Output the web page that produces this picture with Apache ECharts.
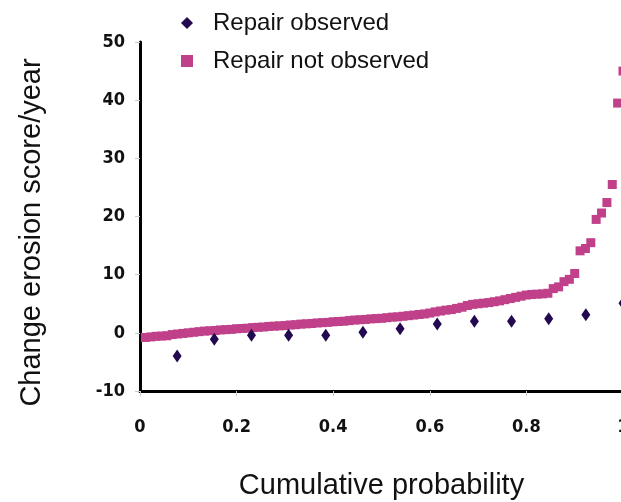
<!DOCTYPE html>
<html>
<head>
<meta charset="utf-8">
<script src="https://cdn.jsdelivr.net/npm/echarts@6/dist/echarts.min.js"></script>
<style>html,body{margin:0;padding:0;background:#fff}#c{width:621px;height:502px}</style>
</head>
<body>
<div id="c"></div>
<script>
// Sorted change in erosion score/year per patient group
var observedValues = [-4.0, -1.1, -0.4, -0.4, -0.4, 0.1, 0.7, 1.5, 2.0, 2.0, 2.4, 3.1, 5.1];
var notObservedValues = [
  -0.8, -0.7, -0.6, -0.55, -0.5, -0.3, -0.2, -0.1, 0.0, 0.1,
  0.2, 0.3, 0.35, 0.4, 0.5, 0.55, 0.6, 0.7, 0.75, 0.8,
  0.9, 0.95, 1.0, 1.1, 1.15, 1.2, 1.25, 1.35, 1.4, 1.5,
  1.55, 1.6, 1.7, 1.75, 1.8, 1.9, 1.95, 2.0, 2.1, 2.2,
  2.25, 2.3, 2.4, 2.45, 2.5, 2.6, 2.7, 2.75, 2.85, 2.95,
  3.05, 3.15, 3.25, 3.4, 3.6, 3.75, 3.9, 4.0, 4.2, 4.4,
  4.7, 4.9, 5.0, 5.1, 5.2, 5.35, 5.5, 5.7, 5.9, 6.1,
  6.3, 6.5, 6.6, 6.65, 6.7, 6.8, 7.6, 7.9, 8.8, 9.2,
  10.2, 14.1, 14.5, 15.5, 19.5, 20.6, 22.4, 25.5, 39.5, 45.0
];
var seriesNames = ['Repair observed', 'Repair not observed'];
var xTicks = [0, 0.2, 0.4, 0.6, 0.8, 1];
var yTicks = [-10, 0, 10, 20, 30, 40, 50];

// cumulative probability = rank / n
function cumulative(vals) {
  return vals.map(function (v, i) { return [(i + 1) / vals.length, v]; });
}

var tickFont = "'Liberation Sans Narrow', 'DejaVu Sans Condensed', 'Liberation Sans', sans-serif";
var textFont = "'Liberation Sans', Arial, sans-serif";

var chart = echarts.init(document.getElementById('c'));
chart.setOption({
  animation: false,
  backgroundColor: '#fff',
  grid: { left: 140, top: 42, right: -2, bottom: 111, containLabel: false, outerBoundsMode: 'none' },
  legend: {
    orient: 'vertical',
    left: 176,
    top: 6,
    itemWidth: 12,
    itemHeight: 12,
    itemGap: 14,
    data: [
      { name: seriesNames[0], icon: 'diamond', itemStyle: { color: '#23094f', opacity: 1 } },
      { name: seriesNames[1], icon: 'rect', itemStyle: { color: '#c0408a', opacity: 1 } }
    ],
    textStyle: { fontFamily: textFont, fontSize: 24, color: '#111', padding: [0, 0, 0, 15] }
  },
  xAxis: {
    type: 'value',
    min: xTicks[0],
    max: xTicks[xTicks.length - 1],
    interval: 0.2,
    name: 'Cumulative probability',
    nameLocation: 'middle',
    nameGap: 80,
    nameTextStyle: { fontFamily: textFont, fontSize: 29, color: '#111' },
    axisLine: { onZero: false, lineStyle: { color: '#000', width: 3 } },
    axisTick: { show: true, length: 5, lineStyle: { color: '#c8c8c8', width: 1 } },
    axisLabel: { margin: 27, fontFamily: tickFont, fontWeight: 'bold', fontSize: 18, color: '#111' },
    splitLine: { show: false }
  },
  yAxis: {
    type: 'value',
    min: yTicks[0],
    max: yTicks[yTicks.length - 1],
    interval: 10,
    name: 'Change erosion score/year',
    nameLocation: 'middle',
    nameGap: 94,
    nameTextStyle: { fontFamily: textFont, fontSize: 29, color: '#111', padding: [0, 32, 0, 0] },
    axisLine: { show: true, onZero: false, lineStyle: { color: '#000', width: 3 } },
    axisTick: { show: true, length: 5, lineStyle: { color: '#c8c8c8', width: 1 } },
    axisLabel: { margin: 15, fontFamily: tickFont, fontWeight: 'bold', fontSize: 18, color: '#111' },
    splitLine: { show: false }
  },
  series: [
    {
      name: seriesNames[0],
      type: 'scatter',
      symbol: 'diamond',
      symbolSize: [9, 13],
      itemStyle: { color: '#23094f', opacity: 1 },
      data: cumulative(observedValues),
      z: 3
    },
    {
      name: seriesNames[1],
      type: 'scatter',
      symbol: 'rect',
      symbolSize: 9,
      itemStyle: { color: '#c0408a', opacity: 1 },
      data: cumulative(notObservedValues),
      z: 2
    }
  ]
});
</script>
</body>
</html>
